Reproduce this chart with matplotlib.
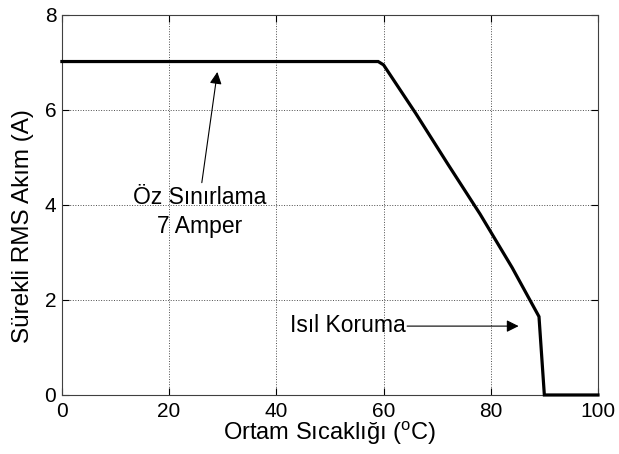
import numpy as np
import matplotlib.pyplot as plt

plt.rcParams['font.family'] = ['Liberation Sans', 'DejaVu Sans']
plt.rcParams['mathtext.fontset'] = 'custom'
plt.rcParams['mathtext.rm'] = 'Liberation Sans'

# derating curve
temp = [0, 59, 60, 66, 72, 78, 84, 89, 90, 100]
current = [7.02, 7.02, 6.95, 5.93, 4.86, 3.81, 2.68, 1.65, 0, 0]

x_ticks = [0, 20, 40, 60, 80, 100]
y_ticks = [0, 2, 4, 6, 8]

fig = plt.figure(figsize=(6.19, 4.54), dpi=100)
ax = fig.add_axes([0.1, 0.13, 0.866, 0.837])

ax.plot(temp, current, color='k', lw=2.3, solid_joinstyle='miter', clip_on=False, zorder=3)

ax.set_xlim(0, 100)
ax.set_ylim(0, 8)
ax.set_xticks(x_ticks)
ax.set_yticks(y_ticks)
ax.tick_params(direction='in', labelsize=15, length=5, top=True, right=True)
ax.tick_params(axis='x', pad=5)
ax.tick_params(axis='y', pad=4)
ax.grid(True, linestyle=':', color='k', lw=0.7, alpha=0.7)
for s in ax.spines.values():
    s.set_linewidth(0.8)
    s.set_color('#404040')

ax.set_xlabel('Ortam Sıcaklığı ($^{\\rm o}$C)', fontsize=17, labelpad=-1)
ax.set_ylabel('Sürekli RMS Akım (A)', fontsize=17.5)
ax.yaxis.set_label_coords(-0.052, 0.445)

# annotations
ax.text(25.7, 3.85, 'Öz Sınırlama\n7 Amper', ha='center', va='center',
        fontsize=16.5, linespacing=1.3)
ax.annotate('', xy=(29.0, 6.8), xytext=(26.1, 4.47),
            arrowprops=dict(arrowstyle='-|>', color='k', lw=0.8,
                            mutation_scale=18, shrinkA=0, shrinkB=0))
ax.text(42.6, 1.47, 'Isıl Koruma', ha='left', va='center', fontsize=16.5)
ax.annotate('', xy=(85.2, 1.45), xytext=(64.4, 1.45),
            arrowprops=dict(arrowstyle='-|>', color='k', lw=0.8,
                            mutation_scale=18, shrinkA=0, shrinkB=0))

fig.savefig('out.png', dpi=100)
